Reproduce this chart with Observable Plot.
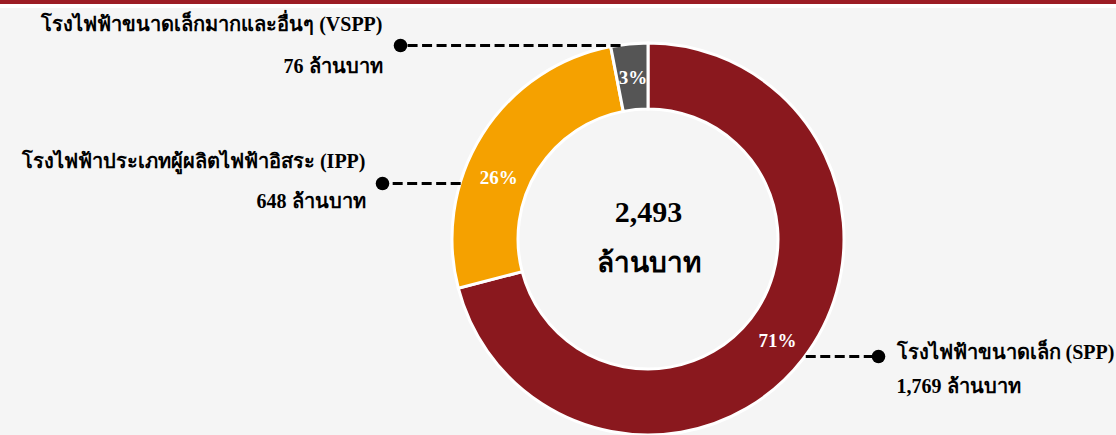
<!DOCTYPE html>
<html><head><meta charset="utf-8">
<script src="https://cdn.jsdelivr.net/npm/d3@7"></script>
<script src="https://cdn.jsdelivr.net/npm/@observablehq/plot@0.6"></script>
<style>
body{margin:0;background:#fff;}
#top{height:4px;background:#9c1c24;margin-bottom:4px;width:1116px}
#chart svg{display:block}
</style></head><body><div id="top"></div><div id="chart"></div>
<script>
// ---- data ----
const categories = ["โรงไฟฟ้าขนาดเล็ก (SPP)", "โรงไฟฟ้าประเภทผู้ผลิตไฟฟ้าอิสระ (IPP)", "โรงไฟฟ้าขนาดเล็กมากและอื่นๆ (VSPP)"];
const values = [1769, 648, 76];
const valueLabels = ["1,769 ล้านบาท", "648 ล้านบาท", "76 ล้านบาท"];
const percentLabels = ["71%", "26%", "3%"];
const totalLabel = "2,493";
const unitLabel = "ล้านบาท";
const colors = ["#8a181e", "#f5a100", "#555555"];

// ---- layout (positions, sizes) ----
const W = 1116, H = 427;
const CX = 648, CY = 231, R_OUT = 196, R_IN = 130;
const FONT = "'Liberation Serif','Times New Roman',serif";
// leader line y offset from center, dot x, text anchor x, side, percent-label nudge
const leaders = [
  {dy: 117, dotX: 878, textX: 896, side: 1, nameDy: -4, valDy: 30, px: 0, py: 2},
  {dy: -56, dotX: 382, textX: 365, side: -1, nameDy: -22, valDy: 18, px: -12, py: 25},
  {dy: -194, dotX: 400, textX: 382, side: -1, nameDy: -21, valDy: 21, px: 0, py: 1}
];

const rows = categories.map((c, i) => ({name: c, value: values[i], pct: percentLabels[i], vlabel: valueLabels[i], color: colors[i], ...leaders[i]}));
const pie = d3.pie().sort(null).value(d => d.value)(rows);
const arcGen = d3.arc().innerRadius(R_IN).outerRadius(R_OUT);

const pctPts = pie.map(d => { const [x, y] = arcGen.centroid(d); return {x: CX + x + d.data.px, y: CY + y + d.data.py, t: d.data.pct}; });
const lines = rows.map(d => {
  const ax = CX + d.side * Math.sqrt(R_OUT * R_OUT - d.dy * d.dy);
  return {x1: ax, x2: d.dotX, y: CY + d.dy, ...d};
});
const rightLabels = lines.filter(d => d.side > 0);
const leftLabels = lines.filter(d => d.side < 0);
const labelStyle = {fontSize: 20, fontWeight: "bold", fill: "#000"};

const chart = Plot.plot({
  width: W, height: H, margin: 0,
  x: {domain: [0, W], range: [0, W], axis: null},
  y: {domain: [0, H], range: [0, H], axis: null},
  style: {background: "#f5f5f5", fontFamily: FONT},
  marks: [
    (index, scales) => {
      const g = d3.create("svg:g");
      g.selectAll("path").data(pie).join("path")
        .attr("transform", `translate(${scales.x(CX)},${scales.y(CY)})`)
        .attr("d", arcGen)
        .attr("fill", d => d.data.color)
        .attr("stroke", "#ffffff").attr("stroke-width", 3).attr("stroke-linejoin", "miter");
      return g.node();
    },
    Plot.link(lines, {x1: "x1", x2: "x2", y1: "y", y2: "y", stroke: "#000", strokeWidth: 3.2, strokeDasharray: "10,4.5"}),
    Plot.dot(lines, {x: "x2", y: "y", r: 6.8, fill: "#000"}),
    Plot.text(pctPts, {x: "x", y: "y", text: "t", fill: "#fff", fontSize: 19, fontWeight: "bold"}),
    Plot.text(rightLabels, {x: "textX", y: d => d.y + d.nameDy, text: "name", textAnchor: "start", ...labelStyle}),
    Plot.text(rightLabels, {x: "textX", y: d => d.y + d.valDy, text: "vlabel", textAnchor: "start", ...labelStyle}),
    Plot.text(leftLabels, {x: "textX", y: d => d.y + d.nameDy, text: "name", textAnchor: "end", ...labelStyle}),
    Plot.text(leftLabels, {x: "textX", y: d => d.y + d.valDy, text: "vlabel", textAnchor: "end", ...labelStyle}),
    Plot.text([totalLabel], {x: () => CX, y: () => CY - 27, text: d => d, fontSize: 30, fontWeight: "bold", fill: "#000"}),
    Plot.text([unitLabel], {x: () => CX, y: () => CY + 24, text: d => d, fontSize: 28, fontWeight: "bold", fill: "#000"})
  ]
});
document.getElementById("chart").append(chart);
</script></body></html>
